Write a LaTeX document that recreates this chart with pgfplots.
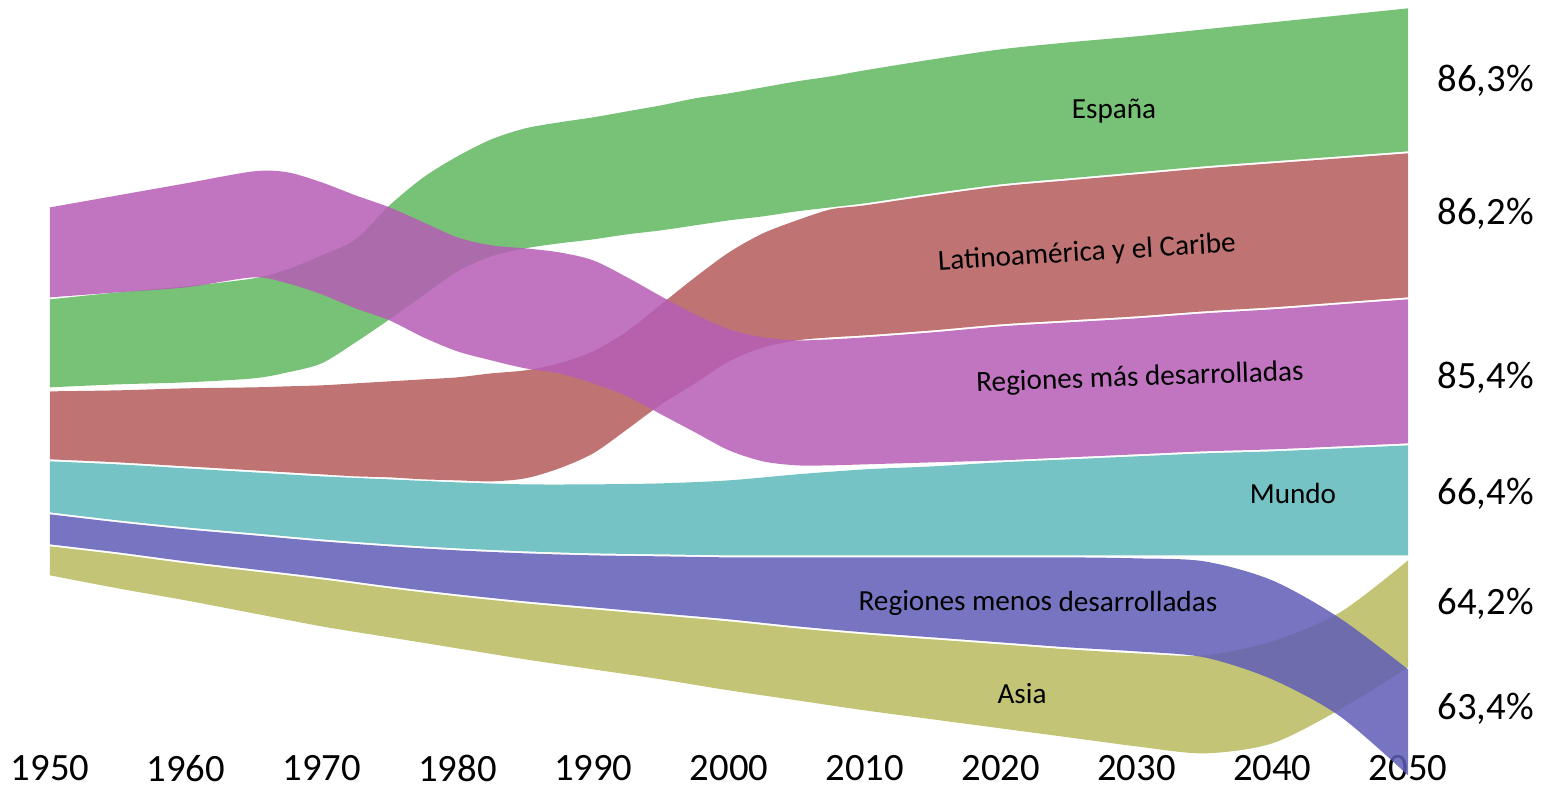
\documentclass[border=0pt]{standalone}
\usepackage{pgfplots}
\pgfplotsset{compat=1.18}
\usepackage{pgfplotstable}
\usepgfplotslibrary{fillbetween}
\usepackage{fontspec}
\setmainfont{Carlito}

\definecolor{cgreen}{RGB}{96,183,96}
\definecolor{cred}{RGB}{181,91,91}
\definecolor{cmag}{RGB}{182,93,182}
\definecolor{ccyan}{RGB}{93,184,186}
\definecolor{cblue}{RGB}{95,93,182}
\definecolor{colive}{RGB}{184,186,93}

% boundaries of each ribbon (vertical position, 0 = top of the picture)
% upper ribbons: España (G), Regiones más desarrolladas (M), Latinoamérica (R)
\pgfplotstableread{
yr     GT  GB  MT  MB  RT  RB
1950   298 388 206 298 390 460
1955   291 385 194 293 389 463
1960   285 383 182 288 387 467
1965   277 379 170 278 386 471
1967.5 268 373 171 284 385 473
1970   254 364 181 295 384 475
1972.5 238 343 194 309 382 477
1975   204 320 206 321 380 478
1977.5 176 296 221 338 378 480
1980   155 272 236 352 376 481
1982.5 138 257 244 361 372 482
1985   127 249 247 369 369 479
1987.5 121 244 251 374 362 469
1990   116 240 259 384 350 454
1992.5 110 235 276 397 330 430
1995   104 231 295 415 303 405
1997.5  97 226 313 433 276 384
2000    92 221 328 451 251 362
2002.5  86 217 336 462 232 348
2005    80 212 339 466 219 341
2007.5  75 208 338 466 208 338
2010    69 204 336 465 204 336
2015    58 194 331 463 194 331
2020    48 185 325 461 185 325
2025    41 179 321 458 179 321
2030    35 173 317 455 173 317
2035    28 167 312 452 167 312
2040    21 162 308 450 162 308
2045    14 157 303 447 157 303
2050     7 152 298 444 152 298
}\bandsA
% lower ribbons: Mundo (C), Regiones menos desarrolladas (B), Asia (O)
\pgfplotstableread{
yr   CT  CB  BT  BB  OT  OB
1950 460 513 513 545 545 576
1955 463 521 521 553 553 589
1960 467 528 528 562 562 601
1965 471 534 534 570 570 614
1970 475 540 540 578 578 627
1975 478 545 545 587 587 638
1980 481 549 549 595 595 649
1985 483 552 552 602 602 660
1990 483 554 554 608 608 670
1995 482 555 555 614 614 680
2000 479 556 556 620 620 691
2005 473 556 556 627 627 701
2010 468 556 556 633 633 711
2015 465 556 556 638 638 720
2020 461 556 556 643 643 729
2025 458 556 556 648 648 738
2030 455 556 557 652 652 747
2035 452 556 560 658 654 754
2040 450 556 579 680 640 744
2045 447 556 617 717 611 710
2050 444 556 668 776 559 668
}\bandsB

\begin{document}
\begin{tikzpicture}
\begin{axis}[
  set layers=standard,
  scale only axis,
  width=135.8mm, height=78.5mm,
  xmin=1950, xmax=2050, ymin=0, ymax=785,
  y dir=reverse,
  clip=false,
  axis line style={draw=none},
  major tick length=0pt,
  ytick=\empty,
  xtick={1950,1960,...,2050},
  xticklabels={1950,1960,1970,1980,1990,2000,2010,2020,2030,2040,2050},
  xticklabel style={font=\fontsize{11}{13}\selectfont, anchor=center, yshift=1.7mm, inner sep=0pt},
]
% boundary paths (1 unit inset so neighbouring ribbons keep a thin white gap)
\addplot[draw=none, smooth, name path=gt] table[x=yr, y expr=\thisrow{GT}+1] {\bandsA};
\addplot[draw=none, smooth, name path=gb] table[x=yr, y expr=\thisrow{GB}-1] {\bandsA};
\addplot[draw=none, smooth, name path=mt] table[x=yr, y expr=\thisrow{MT}+1] {\bandsA};
\addplot[draw=none, smooth, name path=mb] table[x=yr, y expr=\thisrow{MB}-1] {\bandsA};
\addplot[draw=none, smooth, name path=rt] table[x=yr, y expr=\thisrow{RT}+1] {\bandsA};
\addplot[draw=none, smooth, name path=rb] table[x=yr, y expr=\thisrow{RB}-1] {\bandsA};
\addplot[draw=none, smooth, name path=ct] table[x=yr, y expr=\thisrow{CT}+1] {\bandsB};
\addplot[draw=none, smooth, name path=cb] table[x=yr, y expr=\thisrow{CB}-1] {\bandsB};
\addplot[draw=none, smooth, name path=bt] table[x=yr, y expr=\thisrow{BT}+1] {\bandsB};
\addplot[draw=none, smooth, name path=bb] table[x=yr, y expr=\thisrow{BB}-1] {\bandsB};
\addplot[draw=none, smooth, name path=ot] table[x=yr, y expr=\thisrow{OT}+1] {\bandsB};
\addplot[draw=none, smooth, name path=ob] table[x=yr, y expr=\thisrow{OB}-1] {\bandsB};

\addplot[fill=cgreen, fill opacity=0.85, draw=none] fill between[of=gt and gb];
\addplot[fill=cred, fill opacity=0.85, draw=none] fill between[of=rt and rb];
\addplot[fill=ccyan, fill opacity=0.85, draw=none] fill between[of=ct and cb];
\addplot[fill=colive, fill opacity=0.85, draw=none] fill between[of=ot and ob];
\addplot[fill=cmag, fill opacity=0.85, draw=none] fill between[of=mt and mb];
\addplot[fill=cblue, fill opacity=0.85, draw=none] fill between[of=bt and bb];

% ribbon labels
\begin{scope}[every node/.style={font=\fontsize{8.3}{10}\selectfont, inner sep=0pt}]
\node at (axis cs:2028.35,111) {España};
\node[rotate=3.5] at (axis cs:2026.36,253) {Latinoamérica y el Caribe};
\node[rotate=2] at (axis cs:2030.26,378) {Regiones más desarrolladas};
\node at (axis cs:2041.53,493) {Mundo};
\node[rotate=-0.3] at (axis cs:2022.75,603) {Regiones menos desarrolladas};
\node at (axis cs:2021.58,693) {Asia};
\end{scope}

% end values
\begin{scope}[every node/.style={font=\fontsize{11}{13}\selectfont, anchor=west, inner sep=0pt, xshift=2.9mm}]
\node at (axis cs:2050,80) {86,3\%};
\node at (axis cs:2050,213) {86,2\%};
\node at (axis cs:2050,377) {85,4\%};
\node at (axis cs:2050,493) {66,4\%};
\node at (axis cs:2050,603) {64,2\%};
\node at (axis cs:2050,708) {63,4\%};
\end{scope}
\end{axis}
\path (-5mm,0) rectangle (149.8mm,78.5mm);
\end{tikzpicture}
\end{document}
